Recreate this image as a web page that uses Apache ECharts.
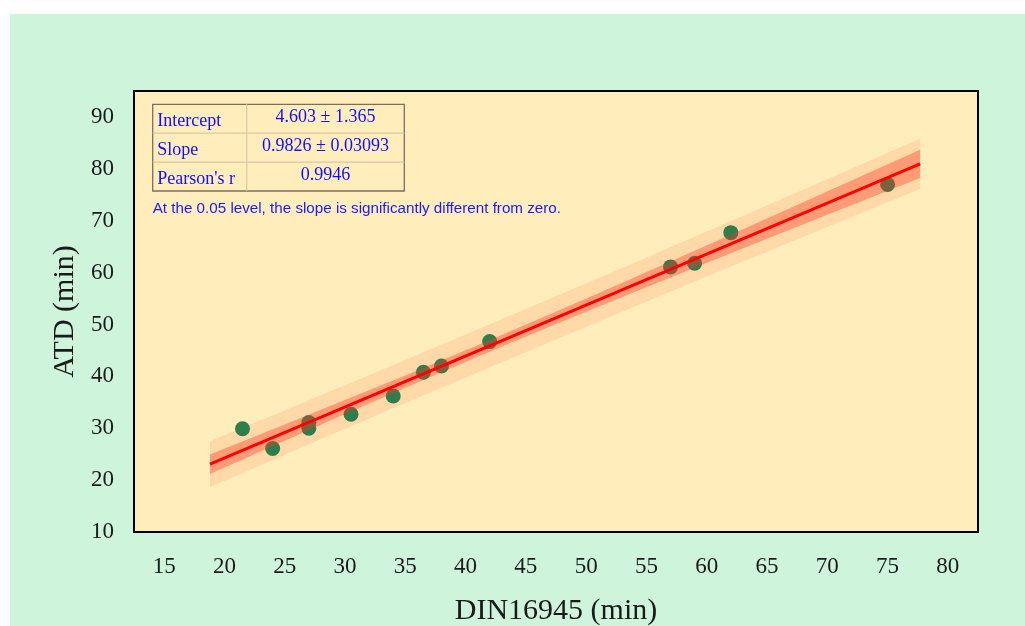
<!DOCTYPE html>
<html>
<head>
<meta charset="utf-8">
<script src="https://cdn.jsdelivr.net/npm/echarts@6/dist/echarts.min.js"></script>
<style>
  html, body { margin: 0; padding: 0; background: #ffffff; width: 1025px; height: 626px; overflow: hidden; }
  #chart { position: absolute; left: 10px; top: 14px; width: 1015px; height: 612px; }
</style>
</head>
<body>
<div id="chart"></div>
<script>
// Measured samples
const dinValues = [21.5, 24.0, 27.0, 27.0, 30.5, 34.0, 36.5, 38.0, 42.0, 57.0, 59.0, 62.0, 75.0];
const atdValues = [29.9, 26.1, 31.1, 30.0, 32.7, 36.2, 40.8, 42.0, 46.7, 61.1, 61.8, 67.7, 77.0];

// Linear fit results
const fitIntercept = 4.603;
const fitSlope = 0.9826;
const fitRange = [18.8, 77.7];
const tableRows = [
  ['Intercept', '4.603 \u00b1 1.365'],
  ['Slope', '0.9826 \u00b1 0.03093'],
  ["Pearson's r", '0.9946']
];
const noteText = 'At the 0.05 level, the slope is significantly different from zero.';

// 95% confidence and prediction band edges along the fit range
const bandX     = [18.8, 25, 30, 35, 41, 47, 53, 59, 65, 71, 77.7];
const confLower = [21.20, 27.61, 32.75, 37.82, 43.79, 49.61, 55.31, 60.93, 66.50, 72.05, 78.22];
const confUpper = [24.95, 30.72, 35.42, 40.17, 45.99, 51.96, 58.05, 64.22, 70.44, 76.69, 83.68];
const predLower = [18.67, 24.89, 29.88, 34.84, 40.76, 46.63, 52.47, 58.27, 64.03, 69.76, 76.12];
const predUpper = [27.48, 33.44, 38.28, 43.15, 49.02, 54.94, 60.90, 66.89, 72.92, 78.98, 85.78];

const scatterData = dinValues.map((x, i) => [x, atdValues[i]]);
const fitLine = fitRange.map(x => [x, fitIntercept + fitSlope * x]);

function bandSeries(lower, upper, fill, z) {
  return {
    type: 'custom',
    silent: true,
    z: z,
    data: bandX.map((x, i) => [x, lower[i], upper[i]]),
    encode: { x: 0, y: [1, 2] },
    renderItem: function (params, api) {
      if (params.dataIndex !== 0) return null;
      const pts = [];
      for (let i = 0; i < bandX.length; i++) pts.push(api.coord([bandX[i], upper[i]]));
      for (let i = bandX.length - 1; i >= 0; i--) pts.push(api.coord([bandX[i], lower[i]]));
      return { type: 'polygon', shape: { points: pts }, style: { fill: fill } };
    }
  };
}

// Table layout (pixels inside the chart)
const tbl = { x: 142.7, y: 90.3, colSplit: 236.7, right: 394.3, rowH: 28.9 };
const tableGraphics = [];
tableGraphics.push({
  type: 'rect',
  shape: { x: tbl.x, y: tbl.y, width: tbl.right - tbl.x, height: tbl.rowH * 3 },
  style: { fill: 'none', stroke: '#7d6e5c', lineWidth: 1.3 },
  z: 100
});
for (let r = 1; r < 3; r++) {
  const yy = tbl.y + tbl.rowH * r;
  tableGraphics.push({ type: 'line', shape: { x1: tbl.x, y1: yy, x2: tbl.right, y2: yy },
    style: { stroke: '#d9c9a3', lineWidth: 1.2 }, z: 100 });
}
tableGraphics.push({ type: 'line', shape: { x1: tbl.colSplit, y1: tbl.y, x2: tbl.colSplit, y2: tbl.y + tbl.rowH * 3 },
  style: { stroke: '#d9c9a3', lineWidth: 1.2 }, z: 100 });
tableRows.forEach((row, r) => {
  const cy = tbl.y + tbl.rowH * (r + 0.5);
  tableGraphics.push({ type: 'text', x: tbl.x + 4.6, y: cy + 3, z: 101,
    style: { text: row[0], fill: '#1010ff', font: '18px "Liberation Serif", "Times New Roman", serif',
      textAlign: 'left', textVerticalAlign: 'middle' } });
  tableGraphics.push({ type: 'text', x: (tbl.colSplit + tbl.right) / 2, y: cy - 1, z: 101,
    style: { text: row[1], fill: '#1010ff', font: '18px "Liberation Serif", "Times New Roman", serif',
      textAlign: 'center', textVerticalAlign: 'middle' } });
});
tableGraphics.push({ type: 'text', x: 142.7, y: 195, z: 101,
  style: { text: noteText, fill: '#1a1aff', font: '15.2px "Liberation Sans", Arial, sans-serif',
    textAlign: 'left', textVerticalAlign: 'middle' } });

const chart = echarts.init(document.getElementById('chart'), null, { renderer: 'canvas' });
const serifFont = '"Liberation Serif", "Times New Roman", serif';

chart.setOption({
  backgroundColor: '#cef5dc',
  animation: false,
  grid: {
    left: 124, top: 77, right: 47, bottom: 94,
    containLabel: false, outerBoundsMode: 'none',
    show: true, backgroundColor: '#ffedbc', borderColor: '#000000', borderWidth: 2
  },
  xAxis: {
    type: 'value', min: 12.5, max: 82.5, splitNumber: 14, minInterval: 5, maxInterval: 5,
    name: 'DIN16945 (min)', nameLocation: 'middle', nameGap: 64,
    nameTextStyle: { fontFamily: serifFont, fontSize: 30, color: '#1a1a1a' },
    axisLine: { show: false }, axisTick: { show: false }, splitLine: { show: false },
    axisLabel: { showMinLabel: false, showMaxLabel: false, margin: 23,
      fontFamily: serifFont, fontSize: 23, color: '#1a1a1a' }
  },
  yAxis: {
    type: 'value', min: 10, max: 95, interval: 10,
    name: 'ATD (min)', nameLocation: 'middle', nameGap: 45,
    nameTextStyle: { fontFamily: serifFont, fontSize: 30, color: '#1a1a1a' },
    axisLine: { show: false }, axisTick: { show: false }, splitLine: { show: false },
    axisLabel: { showMaxLabel: false, margin: 20,
      fontFamily: serifFont, fontSize: 23, color: '#1a1a1a' }
  },
  graphic: tableGraphics,
  series: [
    bandSeries(predLower, predUpper, 'rgba(255, 200, 150, 0.55)', 1),
    {
      type: 'scatter', z: 2, data: scatterData, symbol: 'circle', symbolSize: 15,
      itemStyle: { color: '#2e7d4c', opacity: 1 }, silent: true
    },
    bandSeries(confLower, confUpper, 'rgba(250, 55, 40, 0.38)', 3),
    {
      type: 'line', z: 4, data: fitLine, symbol: 'none', silent: true,
      lineStyle: { color: '#ff0000', width: 2.8 }
    }
  ]
});
</script>
</body>
</html>
